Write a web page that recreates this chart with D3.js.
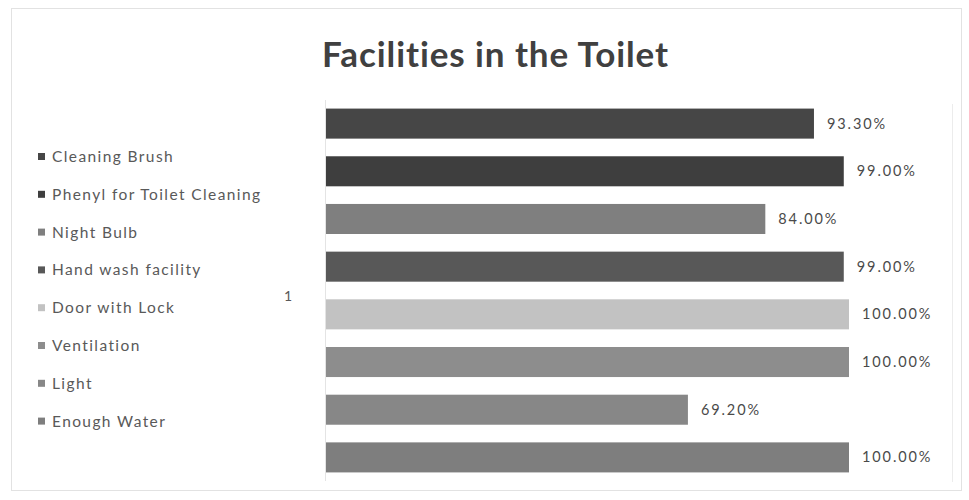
<!DOCTYPE html>
<html>
<head>
<meta charset="utf-8">
<script src="https://cdn.jsdelivr.net/npm/d3@7"></script>
<style>
  html, body { margin: 0; padding: 0; background: #fff; }
  svg { display: block; font-family: Lato, "Open Sans", sans-serif; font-variant-ligatures: none; }
</style>
</head>
<body>
<div id="chart"></div>
<script>
// data
const facilities = ["Cleaning Brush", "Phenyl for Toilet Cleaning", "Night Bulb", "Hand wash facility",
  "Door with Lock", "Ventilation", "Light", "Enough Water"];
const shares = [0.933, 0.99, 0.84, 0.99, 1.0, 1.0, 0.692, 1.0];
const greys = ["#464646", "#3e3e3e", "#7f7f7f", "#585858", "#c2c2c2", "#8d8d8d", "#878787", "#7e7e7e"];
const categoryLabel = "1";

const width = 969, height = 500;

const svg = d3.select("#chart").append("svg")
  .attr("width", width).attr("height", height);

// chart border
svg.append("rect")
  .attr("x", 11.5).attr("y", 8.5).attr("width", 950).attr("height", 482)
  .attr("fill", "none").attr("stroke", "#e2e2e2");

svg.append("text")
  .attr("x", 495).attr("y", 67)
  .attr("text-anchor", "middle")
  .attr("font-size", 35).attr("font-weight", "bold")
  .attr("textLength", 346).attr("lengthAdjust", "spacing")
  .attr("fill", "#404040")
  .text("Facilities in the Toilet");

const x = d3.scaleLinear().domain([0, 1]).range([326, 849]);
const y = d3.scaleBand().domain(facilities).range([100, 481]).paddingInner(0.37).paddingOuter(0.18);

// faint plot-area edges
svg.append("line")
  .attr("x1", 325.5).attr("x2", 325.5).attr("y1", 100).attr("y2", 481)
  .attr("stroke", "#e4e4e4");
svg.append("line")
  .attr("x1", 952.5).attr("x2", 952.5).attr("y1", 104).attr("y2", 482)
  .attr("stroke", "#ececec");

const rows = facilities.map((name, i) => ({ name, value: shares[i], color: greys[i] }));

svg.append("g").selectAll("rect")
  .data(rows)
  .join("rect")
  .attr("x", x(0))
  .attr("y", d => y(d.name))
  .attr("width", d => x(d.value) - x(0))
  .attr("height", y.bandwidth())
  .attr("fill", d => d.color);

svg.append("g").selectAll("text")
  .data(rows)
  .join("text")
  .attr("x", d => x(d.value) + 13)
  .attr("y", d => y(d.name) + y.bandwidth() / 2 + 5)
  .attr("font-size", 14.5)
  .attr("letter-spacing", 1.9)
  .attr("fill", "#4a4a4a")
  .text(d => d3.format(".2%")(d.value));

// category axis label
svg.append("text")
  .attr("x", 288).attr("y", 301)
  .attr("text-anchor", "middle")
  .attr("font-size", 14).attr("fill", "#595959")
  .text(categoryLabel);

// legend
const legend = svg.append("g").selectAll("g")
  .data(rows)
  .join("g")
  .attr("transform", (d, i) => `translate(38, ${157 + i * 37.8})`);

legend.append("rect")
  .attr("x", 0).attr("y", -4).attr("width", 7).attr("height", 7)
  .attr("fill", d => d.color);

legend.append("text")
  .attr("x", 14).attr("y", 5)
  .attr("font-size", 15.5)
  .attr("letter-spacing", 1.4)
  .attr("fill", "#595959")
  .text(d => d.name);
</script>
</body>
</html>
